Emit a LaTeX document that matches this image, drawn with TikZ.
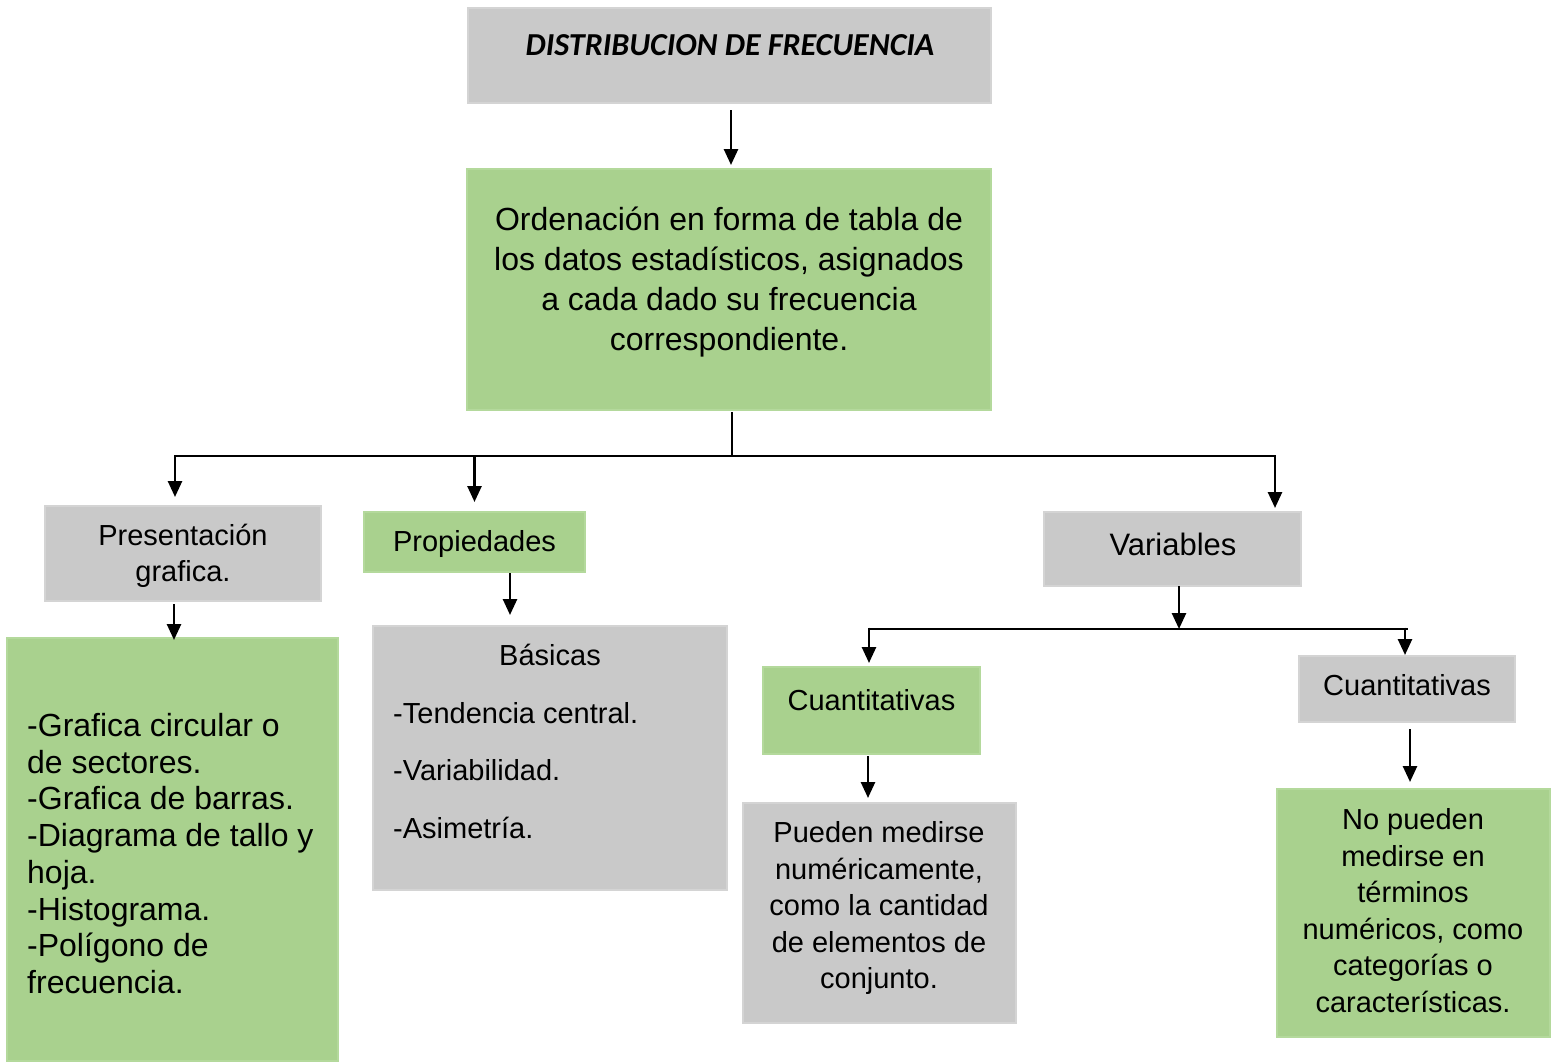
\documentclass[tikz,border=0pt]{standalone}
\usepackage{fontspec}
\setmainfont{Liberation Sans}
\newfontfamily\titlefont{Carlito}
\usetikzlibrary{arrows.meta,calc}
\definecolor{boxgray}{RGB}{201,201,201}
\definecolor{edgegray}{RGB}{212,212,212}
\definecolor{boxgreen}{RGB}{169,209,142}
\definecolor{edgegreen}{RGB}{180,217,156}
\tikzset{
  graybox/.style={rectangle, fill=boxgray, draw=edgegray, line width=1.5pt, inner sep=0pt, outer sep=0pt},
  greenbox/.style={rectangle, fill=boxgreen, draw=edgegreen, line width=1.5pt, inner sep=0pt, outer sep=0pt},
  txt/.style={inner sep=0pt, align=center, font=\fontsize{29}{36.5}\selectfont},
  arr/.style={line width=2.6pt, -{Triangle[length=16pt,width=14pt]}},
  ln/.style={line width=2.6pt}
}
\begin{document}
\begin{tikzpicture}[x=1pt,y=-1pt]
\useasboundingbox[fill=white] (0,0) rectangle (1551,1061);
% boxes
\node[graybox, minimum width=523pt, minimum height=95pt] (title) at (729.5,55.5) {};
\node[greenbox, minimum width=524pt, minimum height=241pt] (main) at (729,289.5) {};
\node[graybox, minimum width=276pt, minimum height=95pt] (pres) at (183,553.5) {};
\node[greenbox, minimum width=221pt, minimum height=60pt] (prop) at (474.5,542) {};
\node[graybox, minimum width=257pt, minimum height=74pt] (vars) at (1172.5,549) {};
\node[greenbox, minimum width=331pt, minimum height=423pt] (list) at (172.5,849.5) {};
\node[graybox, minimum width=354pt, minimum height=264pt] (basic) at (550,758) {};
\node[greenbox, minimum width=217pt, minimum height=87pt] (cq1) at (871.5,710.5) {};
\node[graybox, minimum width=216pt, minimum height=66pt] (cq2) at (1407,689) {};
\node[graybox, minimum width=273pt, minimum height=220pt] (pued) at (879.5,913) {};
\node[greenbox, minimum width=273pt, minimum height=248pt] (nop) at (1413.5,913) {};
% texts
\node[inner sep=0pt, font=\titlefont\bfseries\itshape\fontsize{32}{36}\selectfont] (ttitle) at (730,45) {DISTRIBUCION DE FRECUENCIA};
\node[txt, font=\fontsize{32}{40}\selectfont] (tmain) at (729,282) {Ordenación en forma de tabla de\\los datos estadísticos, asignados\\a cada dado su frecuencia\\correspondiente.};
\node[txt] (tpres) at (183,556) {Presentación\\grafica.};
\node[txt] (tprop) at (474.5,544) {Propiedades};
\node[txt, font=\fontsize{31}{36}\selectfont] (tvars) at (1173,544) {Variables};
\node[txt, align=left, anchor=west, font=\fontsize{32}{36.7}\selectfont] (tlist) at (27,853.5) {-Grafica circular o\\de sectores.\\-Grafica de barras.\\-Diagrama de tallo y\\hoja.\\-Histograma.\\-Polígono de\\frecuencia.};
\node[txt] (tbas) at (550,654.5) {Básicas};
\node[txt, align=left, anchor=west, font=\fontsize{29}{57.5}\selectfont] (titems) at (393,770.5) {-Tendencia central.\\-Variabilidad.\\-Asimetría.};
\node[txt] (tcq1) at (871.5,700.5) {Cuantitativas};
\node[txt] (tcq2) at (1407,685.5) {Cuantitativas};
\node[txt] (tpued) at (879,908) {Pueden medirse\\numéricamente,\\como la cantidad\\de elementos de\\conjunto.};
\node[txt] (tnop) at (1413,910.5) {No pueden\\medirse en\\términos\\numéricos, como\\categorías o\\características.};
% connectors
\draw[arr] ($(title.south)+(1.5,7)$) -- ($(main.north)+(2,-4)$);
\coordinate (hub) at (732,456);
\draw[ln] ($(main.south)+(3,2)$) -- (hub);
\coordinate (t1) at (175,497);
\coordinate (t2) at (474.5,502);
\coordinate (t3) at (1275,508);
\draw[arr] (hub) -| (t1);
\draw[arr] (hub) -| (t2);
\draw[arr] (hub) -| (t3);
\draw[arr] ($(pres.south)+(-9,3)$) -- ($(list.north)+(1.5,2)$);
\draw[arr] ($(prop.south)+(35.5,1)$) -- ($(basic.north)+(-40,-11)$);
\coordinate (hub2) at (1179,629);
\draw[arr] ($(vars.south)+(6.5,0)$) -- (hub2);
\coordinate (hl) at (869,629);
\coordinate (hr) at (1408,629);
\draw[ln] (hl) -- (hr);
\coordinate (t4) at (869,663);
\coordinate (t5) at (1405,655);
\draw[arr] ($(hl)+(0,-1.3)$) -- (t4);
\draw[arr] ($(hr)+(-3,-1.3)$) -- (t5);
\draw[arr] ($(cq1.south)+(-3.5,2)$) -- ($(pued.north)+(-11.5,-5)$);
\draw[arr] ($(cq2.south)+(3,7)$) -- ($(nop.north)+(-3.5,-7)$);
\end{tikzpicture}
\end{document}
